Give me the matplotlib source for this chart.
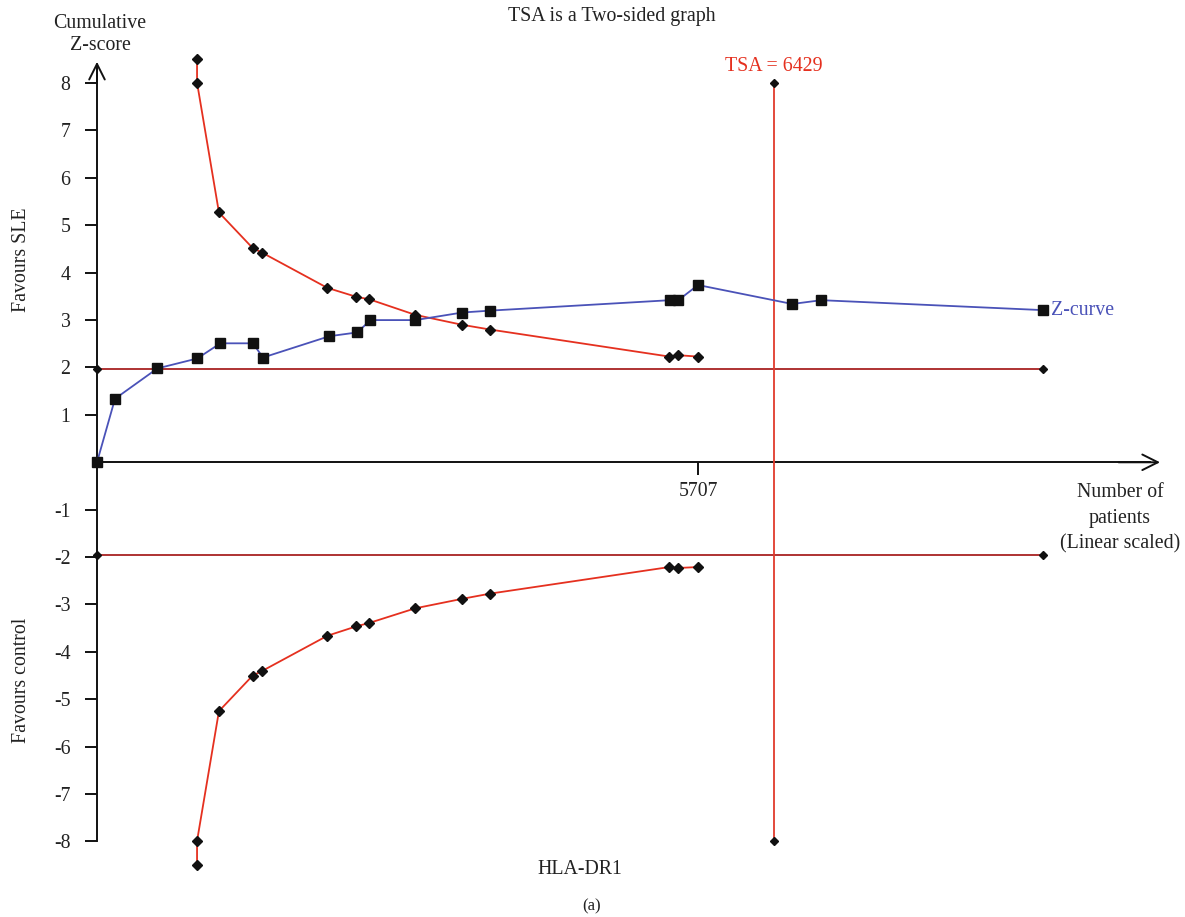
import numpy as np
import matplotlib.pyplot as plt

plt.rcParams['font.family'] = ['Liberation Serif', 'DejaVu Serif']

# Z-curve (cumulative z-score vs number of patients)
z_n = [0, 171, 573, 952, 1171, 1481, 1576, 2206, 2472, 2596, 3023, 3469, 3735,
       5441, 5520, 5707, 6602, 6878, 8986]
z_val = [0.0, 1.34, 1.98, 2.19, 2.51, 2.51, 2.21, 2.66, 2.74, 3.0, 3.0, 3.16, 3.20,
         3.42, 3.42, 3.74, 3.34, 3.42, 3.21]

# trial sequential monitoring boundaries
b_n = [950, 950, 1158, 1478, 1570, 2187, 2464, 2584, 3023, 3469, 3735, 5435, 5514, 5707]
b_up = [8.51, 8.01, 5.27, 4.52, 4.42, 3.68, 3.49, 3.44, 3.11, 2.90, 2.80, 2.23, 2.26, 2.23]
b_lo = [-8.50, -7.99, -5.25, -4.50, -4.40, -3.66, -3.46, -3.39, -3.08, -2.88, -2.77,
        -2.21, -2.23, -2.21]

conv_z = 1.96
n_end = 8986
tsa = 6429
tick_n = 5707
yticks = [-8, -7, -6, -5, -4, -3, -2, -1, 1, 2, 3, 4, 5, 6, 7, 8]

W, H = 1185, 917
fs = 14.3
txt = '#222222'

fig = plt.figure(figsize=(W / 100, H / 100), dpi=100)
ax = fig.add_axes([0, 0, 1, 1])
ax.set_xlim(-921, 10331)
ax.set_ylim(-9.593, 9.753)
ax.patch.set_alpha(0)

# axes through origin
for s in ['top', 'right']:
    ax.spines[s].set_visible(False)
ax.spines['left'].set_position(('data', 0))
ax.spines['bottom'].set_position(('data', 0))
ax.spines['left'].set_bounds(-8, 8.3)
ax.spines['bottom'].set_bounds(0, 10000)
for s in ['left', 'bottom']:
    ax.spines[s].set_linewidth(1.4)
    ax.spines[s].set_color('#111111')
ax.set_yticks(yticks)
ax.set_yticklabels([str(t) for t in yticks])
ax.set_xticks([tick_n])
ax.set_xticklabels([str(tick_n)])
ax.tick_params(axis='both', direction='out', length=9, width=1.4, color='#111111',
               labelsize=fs, labelcolor=txt, pad=10)
ax.tick_params(axis='x', pad=5)

# arrow heads
ax.annotate('', xy=(0, 8.45), xytext=(0, 8.0),
            arrowprops=dict(arrowstyle='->', lw=1.4, color='#111111',
                            mutation_scale=28, shrinkA=0, shrinkB=0))
ax.annotate('', xy=(10094, 0), xytext=(9700, 0),
            arrowprops=dict(arrowstyle='->', lw=1.4, color='#111111',
                            mutation_scale=28, shrinkA=0, shrinkB=0))

red = '#e5301f'
darkred = '#a82222'
blue = '#4a52b8'
mk = '#111111'

# conventional boundaries
for zc in (conv_z, -conv_z):
    ax.plot([0, n_end], [zc, zc], color=darkred, lw=1.3, marker='D', ms=4.5,
            mfc=mk, mec=mk, zorder=3)

# TSA line
ax.plot([tsa, tsa], [-8, 8], color='#e03a2c', lw=1.3, marker='D', ms=4.5,
        mfc=mk, mec=mk, zorder=3)
ax.text(tsa, 8.36, 'TSA = 6429', color=red, fontsize=fs, ha='center', va='center')

# monitoring boundaries
ax.plot(b_n, b_up, color=red, lw=1.3, marker='D', ms=5, mfc=mk, mec=mk, zorder=4)
ax.plot(b_n, b_lo, color=red, lw=1.3, marker='D', ms=5, mfc=mk, mec=mk, zorder=4)

# z-curve
ax.plot(z_n, z_val, color=blue, lw=1.3, marker='s', ms=7, mfc=mk, mec=mk, zorder=5)
ax.text(n_end + 70, z_val[-1], 'Z-curve', color=blue, fontsize=fs,
        ha='left', va='center')

# labels
fig.text(100 / W, 1 - 23 / H, 'Cumulative', fontsize=fs, ha='center', va='center', color=txt)
fig.text(100 / W, 1 - 46 / H, 'Z-score', fontsize=fs, ha='center', va='center', color=txt)
fig.text(612 / W, 1 - 17 / H, 'TSA is a Two-sided graph', fontsize=fs, ha='center',
         va='center', color=txt)
fig.text(22 / W, 1 - 260 / H, 'Favours SLE', fontsize=fs, rotation=90, ha='center',
         va='center', color=txt)
fig.text(22 / W, 1 - 680 / H, 'Favours control', fontsize=fs, rotation=90, ha='center',
         va='center', color=txt)
fig.text(1120 / W, 1 - 493 / H, 'Number of', fontsize=fs, ha='center', va='center', color=txt)
fig.text(1120 / W, 1 - 519 / H, 'patients', fontsize=fs, ha='center', va='center', color=txt)
fig.text(1120 / W, 1 - 544 / H, '(Linear scaled)', fontsize=fs, ha='center', va='center',
         color=txt)
fig.text(580 / W, 1 - 869 / H, 'HLA-DR1', fontsize=fs, ha='center', va='center', color=txt)
fig.text(592 / W, 1 - 906 / H, '(a)', fontsize=12, ha='center', va='center', color=txt)

fig.savefig('out.png', dpi=100)
